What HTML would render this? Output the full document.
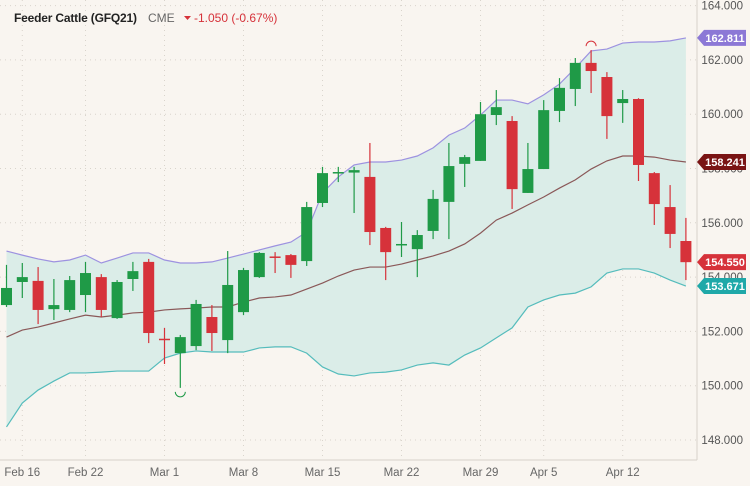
<!DOCTYPE html>
<html><head><meta charset="utf-8"><style>
html,body{margin:0;padding:0;background:#fff}
#wrap{position:relative;width:750px;height:500px;background:#fff;font-family:"Liberation Sans",sans-serif}
svg{position:absolute;left:0;top:0}
</style></head><body>
<div id="wrap">
<svg id="chart" width="750" height="500"></svg>
</div>
<script>
const dateLabels=["Feb 16","Feb 22","Mar 1","Mar 8","Mar 15","Mar 22","Mar 29","Apr 5","Apr 12"];
const dateLabelIdx=[1,5,10,15,20,25,30,34,39];
const yTicks=[148,150,152,154,156,158,160,162,164];
const opens=[152.97,153.82,153.86,152.82,152.79,153.34,154.00,152.49,153.93,154.56,151.73,151.20,151.46,152.53,151.68,152.71,154.00,154.76,154.81,154.59,156.73,157.85,157.85,157.69,155.81,155.19,155.03,155.70,156.77,158.17,158.28,159.97,159.75,157.10,157.98,160.12,160.93,161.89,161.37,160.41,160.56,157.83,156.58,155.33];
const highs=[154.45,154.52,154.37,153.93,154.04,154.56,154.11,153.89,154.56,154.67,152.13,151.87,153.16,152.97,154.96,154.34,154.92,154.92,154.85,156.77,158.06,158.06,158.06,158.94,155.85,156.03,155.73,157.21,158.94,158.50,160.45,160.89,159.93,158.94,160.52,161.33,162.07,162.36,161.55,160.89,160.59,157.87,157.39,156.18];
const lows=[152.90,153.23,152.27,152.42,152.71,152.71,152.53,152.46,153.49,151.57,150.80,149.92,151.31,151.28,151.20,152.60,153.97,154.15,153.97,154.41,156.58,157.50,156.36,155.18,153.89,154.74,154.00,155.40,155.40,157.32,158.28,159.60,156.51,157.10,157.98,159.71,160.30,160.78,159.09,159.68,157.54,155.92,155.07,153.89];
const closes=[153.60,154.00,152.79,152.97,153.89,154.15,152.79,153.82,154.22,151.94,151.70,151.79,153.01,151.94,153.71,154.26,154.89,154.72,154.45,156.58,157.83,157.87,157.94,155.66,154.92,155.22,155.55,156.88,158.09,158.42,160.00,160.26,157.24,157.98,160.15,160.97,161.89,161.59,159.93,160.56,158.13,156.69,155.59,154.55];
const upperBand=[154.96,154.81,154.67,154.56,154.63,154.81,154.52,154.70,154.89,154.89,154.63,154.52,154.52,154.56,154.70,154.85,155.00,155.15,155.29,155.66,157.10,157.69,158.13,158.24,158.24,158.31,158.46,158.76,159.23,159.49,159.97,160.52,160.52,160.38,160.71,161.11,161.70,162.33,162.40,162.62,162.66,162.66,162.70,162.81];
const midBand=[151.79,152.05,152.16,152.31,152.46,152.60,152.53,152.60,152.68,152.71,152.79,152.83,152.86,152.90,152.90,153.08,153.23,153.27,153.34,153.56,153.78,154.04,154.26,154.37,154.37,154.48,154.63,154.78,154.96,155.22,155.62,156.10,156.36,156.66,156.95,157.28,157.58,157.98,158.28,158.46,158.46,158.42,158.31,158.24];
const lowerBand=[148.48,149.36,149.84,150.17,150.47,150.47,150.50,150.54,150.54,150.54,151.02,151.20,151.28,151.24,151.24,151.24,151.39,151.43,151.43,151.20,150.69,150.43,150.36,150.47,150.50,150.58,150.76,150.84,150.76,151.13,151.39,151.76,152.13,152.90,153.16,153.34,153.41,153.64,154.15,154.30,154.30,154.15,153.89,153.67];
const lastValues=[162.811,158.241,154.550,153.671];
const lastLabels=["162.811","158.241","154.550","153.671"];

const NS="http://www.w3.org/2000/svg";
const svg=document.getElementById('chart');
const X=i=>6.5+i*15.8;
const Y=v=>440-(v-148)*27.15;
function mk(tag,attrs,parent){const e=document.createElementNS(NS,tag);for(const k in attrs)e.setAttribute(k,attrs[k]);(parent||svg).appendChild(e);return e;}

let bg=mk('rect',{x:0,y:0,width:750,height:486,fill:'#f9f5f0'});



yTicks.forEach(t=>{let g=mk('line',{x1:0,x2:697,y1:Y(t),y2:Y(t),stroke:'#d9d4cc','stroke-dasharray':'1 4','stroke-width':1});

});
dateLabelIdx.forEach(i=>{let g=mk('line',{x1:X(i),x2:X(i),y1:0,y2:460,stroke:'#d9d4cc','stroke-dasharray':'1 4','stroke-width':1});

});

let pts=upperBand.map((v,i)=>X(i)+','+Y(v)).concat(lowerBand.map((v,i)=>X(i)+','+Y(v)).reverse());
let fill=mk('polygon',{points:pts.join(' '),fill:'#dbede8'});


function line(arr,color,name){let p=mk('polyline',{points:arr.map((v,i)=>X(i)+','+Y(v)).join(' '),fill:'none',stroke:color,'stroke-width':1.2});

}
line(upperBand,'#9d92e0','upper-band-line');
line(midBand,'#8a5858','middle-band-line');
line(lowerBand,'#55bcbc','lower-band-line');

opens.forEach((o,i)=>{const c=closes[i];const up=c>=o;const col=up?'#1f9a47':'#d6323a';
let g=mk('g',{});


mk('line',{x1:X(i),x2:X(i),y1:Y(highs[i]),y2:Y(lows[i]),stroke:col,'stroke-width':1.2},g);
const t=Y(Math.max(o,c)),b=Y(Math.min(o,c));
mk('rect',{x:X(i)-5.5,y:t,width:11,height:Math.max(b-t,1.5),fill:col},g);
});
let lowI=lows.indexOf(Math.min(...lows)), highI=highs.indexOf(Math.max(...highs));
let m1=mk('path',{d:`M${X(lowI)-5},${Y(lows[lowI])+4} a5,5 0 0 0 10,0`,fill:'none',stroke:'#1f9a47','stroke-width':1});


let m2=mk('path',{d:`M${X(highI)-5},${Y(highs[highI])-4} a5,5 0 0 1 10,0`,fill:'none',stroke:'#d6323a','stroke-width':1});



let ax=mk('line',{x1:0,x2:697,y1:460,y2:460,stroke:'#d6d1ca'});


let ay=mk('line',{x1:697,x2:697,y1:0,y2:460,stroke:'#d6d1ca'});


yTicks.forEach(t=>{let tx=mk('text',{x:743,y:Y(t)+4,'text-anchor':'end','font-size':11.5,fill:'#555'});tx.textContent=t.toFixed(3);

});
dateLabels.forEach((d,k)=>{let tx=mk('text',{x:X(dateLabelIdx[k]),y:476,'text-anchor':'middle','font-size':11.5,fill:'#666'});tx.textContent=d;

});

const tagCols=['#8c78d6','#7a1414','#d6323a','#1fa8a8'];
lastValues.forEach((v,k)=>{const y=Y(v);let g=mk('g',{});


mk('path',{d:`M697,${y} L704,${y-8} L746,${y-8} L746,${y+8} L704,${y+8} Z`,fill:tagCols[k]},g);
let tx=mk('text',{x:725,y:y+4,'text-anchor':'middle','font-size':11,'font-weight':'bold',fill:'#fff'},g);tx.textContent=lastLabels[k];});

let h=mk('text',{x:14,y:22,'font-size':12,'font-weight':'bold',fill:'#222',textLength:123});h.textContent='Feeder Cattle (GFQ21)';


let ex=mk('text',{x:148,y:22,'font-size':12,fill:'#666'});ex.textContent='CME';


let tri=mk('path',{d:'M184,16 L191,16 L187.5,20 Z',fill:'#d6323a'});


let ch=mk('text',{x:194,y:22,'font-size':12,fill:'#d6323a'});ch.textContent='-1.050 (-0.67%)';


</script>
</body></html>
